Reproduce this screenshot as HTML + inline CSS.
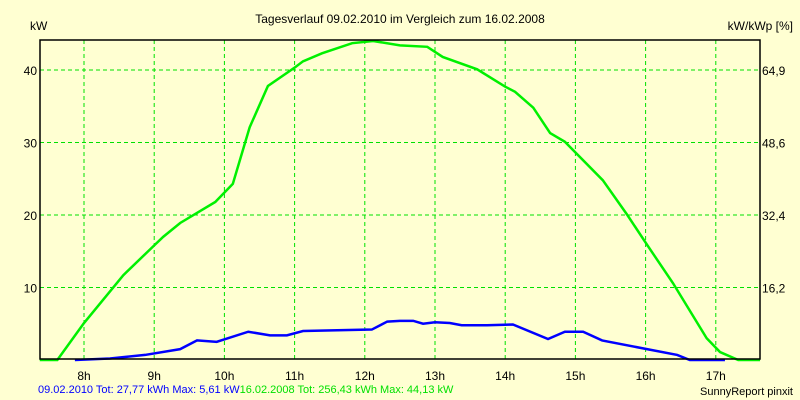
<!DOCTYPE html>
<html><head><meta charset="utf-8"><style>
body{margin:0;background:#ffffd2;}
svg{display:block;font-family:"Liberation Sans",sans-serif;}
</style></head><body>
<svg id="chart" width="800" height="400">
<rect x="0" y="0" width="800" height="400" fill="#ffffd2"/>
<text x="400" y="23" text-anchor="middle" font-size="12">Tagesverlauf 09.02.2010 im Vergleich zum 16.02.2008</text>
<text x="30" y="30" font-size="12">kW</text>
<text x="793" y="30" text-anchor="end" font-size="12">kW/kWp [%]</text>
<g id="grid"></g><g id="series"></g><g id="axes"></g>
<text x="38" y="393" font-size="11"><tspan fill="#0000ff">09.02.2010 Tot: 27,77 kWh Max: 5,61 kW</tspan><tspan fill="#00e000">16.02.2008 Tot: 256,43 kWh Max: 44,13 kW</tspan></text>
<text x="793" y="395" text-anchor="end" font-size="11">SunnyReport pinxit</text>
</svg>
<script>
const xTicks=[8,9,10,11,12,13,14,15,16,17];
const yTicks=[10,20,30,40];
const y2Labels=["16,2","32,4","48,6","64,9"];
const greenH=[7.37,7.62,8,8.56,9.01,9.13,9.37,9.87,10.12,10.36,10.62,11.01,11.12,11.39,11.82,12.12,12.5,12.89,13.11,13.6,14,14.14,14.4,14.64,14.85,15.39,15.74,16.02,16.39,16.87,17.06,17.32,17.63];
const greenV=[0,0,5.1,11.7,15.9,17,18.9,21.8,24.3,32.1,37.8,40.4,41.2,42.3,43.7,44.0,43.4,43.2,41.8,40.1,37.7,37,34.8,31.3,30.1,24.8,20,15.9,10.6,3.0,1.1,0,0];
const blueH=[7.87,8.37,8.87,9.37,9.61,9.89,10.34,10.65,10.89,11.12,12.1,12.32,12.5,12.69,12.83,13,13.21,13.38,13.74,14.11,14.61,14.85,15.11,15.38,16.02,16.45,16.63,17.13];
const blueV=[0,0.2,0.7,1.5,2.7,2.5,3.9,3.4,3.4,4.0,4.2,5.3,5.4,5.4,5.0,5.2,5.1,4.8,4.8,4.9,2.9,3.9,3.9,2.7,1.5,0.7,0,0];
const L=40,R=760,T=40,B=360;
const xs=h=>84+(h-8)*70.2;
const ys=v=>B-v*7.25;
const NS="http://www.w3.org/2000/svg";
function mk(tag,attrs,parent){const e=document.createElementNS(NS,tag);for(const k in attrs)e.setAttribute(k,attrs[k]);parent.appendChild(e);return e;}
const grid=document.getElementById('grid'),axes=document.getElementById('axes'),series=document.getElementById('series');
xTicks.forEach(h=>{
  const l=mk('line',{x1:xs(h),x2:xs(h),y1:T,y2:B,stroke:'#00e000','stroke-dasharray':'4,3'},grid);
  
  
  const t=mk('text',{x:xs(h),y:380,'text-anchor':'middle','font-size':12},axes);
  t.textContent=h+'h';
  
  
});
yTicks.forEach((v,i)=>{
  const l=mk('line',{x1:L,x2:R,y1:ys(v),y2:ys(v),stroke:'#00e000','stroke-dasharray':'4,3'},grid);
  
  
  const t=mk('text',{x:37,y:ys(v)+5,'text-anchor':'end','font-size':12},axes);
  t.textContent=v;
  
  
  const t2=mk('text',{x:762,y:ys(v)+5,'font-size':12},axes);
  t2.textContent=y2Labels[i];
  
  
});
const frame=mk('rect',{x:L,y:T,width:R-L,height:B-T-1,fill:'none',stroke:'#000','stroke-width':1.5},axes);


const g=mk('polyline',{points:greenH.map((h,i)=>xs(h)+','+ys(greenV[i])).join(' '),fill:'none',stroke:'#00f000','stroke-width':2.5},series);


const b=mk('polyline',{points:blueH.map((h,i)=>xs(h)+','+ys(blueV[i])).join(' '),fill:'none',stroke:'#0000ff','stroke-width':2.5},series);


</script>
</body></html>
